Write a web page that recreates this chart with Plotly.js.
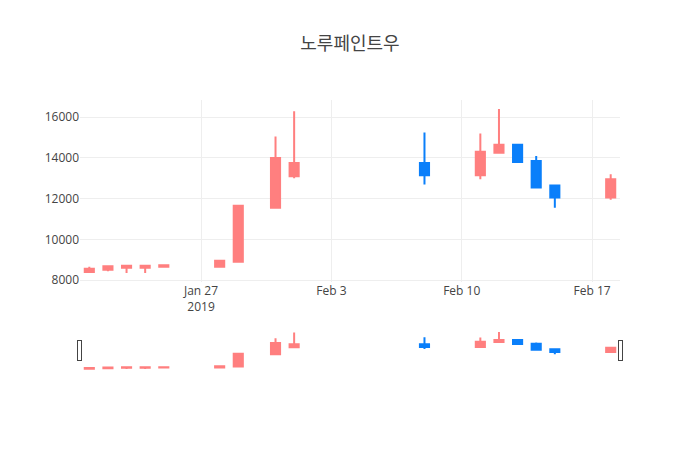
<!DOCTYPE html>
<html>
<head>
<meta charset="utf-8">
<script src="https://cdn.plot.ly/plotly-3.0.1.min.js"></script>
<style>html,body{margin:0;padding:0;background:#fff;}#chart{width:700px;height:450px;}</style>
</head>
<body>
<div id="chart"></div>
<script>
var dates = ['2019-01-21','2019-01-22','2019-01-23','2019-01-24','2019-01-25','2019-01-28','2019-01-29','2019-01-31','2019-02-01','2019-02-08','2019-02-11','2019-02-12','2019-02-13','2019-02-14','2019-02-15','2019-02-18'];
var openVals  = [8400, 8500, 8600, 8600, 8650, 8650, 8900, 11550, 13100, 13750, 13150, 14250, 14650, 13850, 12650, 12050];
var highVals  = [8650, 8680, 8700, 8700, 8730, 8975, 11650, 15050, 16300, 15250, 15200, 16400, 14650, 14100, 12650, 13200];
var lowVals   = [8380, 8430, 8350, 8350, 8640, 8650, 8900, 11550, 13000, 12700, 12950, 14250, 13750, 12550, 11550, 11950];
var closeVals = [8550, 8680, 8700, 8700, 8720, 8950, 11650, 14000, 13750, 13150, 14300, 14650, 13800, 12550, 12050, 12950];

var upColor = '#ff7f7f';
var downColor = '#0a7ffa';

var trace = {
  type: 'candlestick',
  x: dates,
  open: openVals,
  high: highVals,
  low: lowVals,
  close: closeVals,
  increasing: {line: {color: upColor}, fillcolor: upColor},
  decreasing: {line: {color: downColor}, fillcolor: downColor},
  showlegend: false
};

var layout = {
  width: 700,
  height: 450,
  title: {text: '노루페인트우', font: {family: '"Noto Sans CJK KR", "Open Sans", sans-serif', size: 18, color: '#444'}},
  font: {family: '"Open Sans", "Noto Sans CJK KR", sans-serif'},
  xaxis: {type: 'date', rangeslider: {visible: true}},
  yaxis: {tickformat: 'd'},
  paper_bgcolor: '#fff',
  plot_bgcolor: '#fff'
};

Plotly.newPlot('chart', [trace], layout, {displayModeBar: false});
</script>
</body>
</html>
